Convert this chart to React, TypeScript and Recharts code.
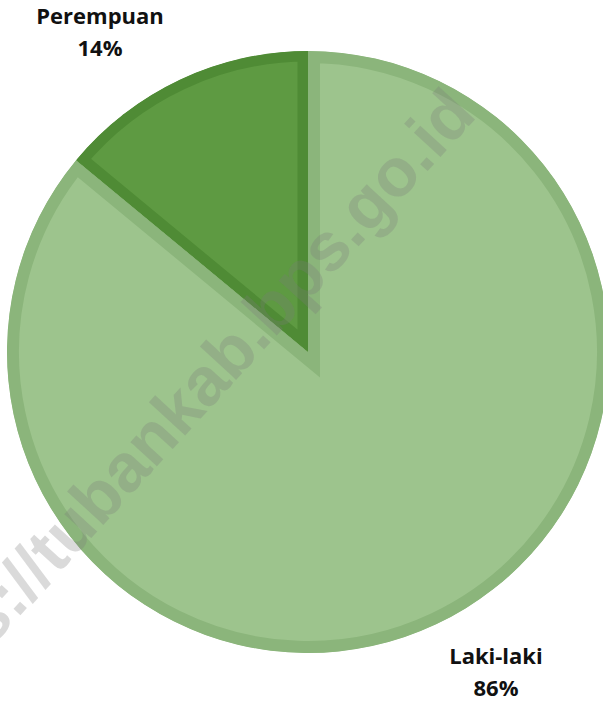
import { PieChart, Pie, Cell, Sector } from "recharts";

const categories = ["Laki-laki", "Perempuan"];
const shares = [86, 14];

const fills = ["#9DC48D", "#5E9A42"];
const borders = ["#8BB57B", "#4F8B35"];

const watermark = "https://tubankab.bps.go.id";

const data = categories.map((name, i) => ({ name, value: shares[i] }));

// sector with the border drawn inside the slice only (clipped to its own path)
const renderSector = (props: any) => {
  const { cx, cy, innerRadius, outerRadius, startAngle, endAngle, fill, index } = props;
  const i = typeof index === "number" ? index : Math.round(startAngle);
  const id = `slice-clip-${i}`;
  const k = categories.indexOf(props.payload?.name ?? props.name);
  const border = borders[k] ?? "#888";
  const geo = { cx, cy, innerRadius, outerRadius, startAngle, endAngle };
  return (
    <g>
      <defs>
        <clipPath id={id}>
          <Sector {...geo} />
        </clipPath>
      </defs>
      <Sector
        {...geo}
        fill={fill}
        stroke={border}
        strokeWidth={k === 1 ? 21 : 24}
        strokeLinejoin="miter"
        clipPath={`url(#${id})`}
      />
    </g>
  );
};

const RAD = Math.PI / 180;

const renderLabel = (props: any) => {
  const { cx, cy, midAngle, name, value } = props;
  const x = cx - 10 + 465 * Math.cos(-midAngle * RAD);
  const y = cy + 8 + 354 * Math.sin(-midAngle * RAD);
  return (
    <text
      x={x}
      y={y}
      textAnchor="middle"
      fill="#111"
      fontFamily="'Open Sans', sans-serif"
      fontWeight={700}
      fontSize={22}
    >
      <tspan x={x} y={y - 16}>{name}</tspan>
      <tspan x={x} y={y + 16}>{`${value}%`}</tspan>
    </text>
  );
};

export default function App() {
  return (
    <div style={{ position: "absolute", left: 0, top: 0, width: 603, height: 702, background: "#fff", overflow: "hidden" }}>
      <PieChart width={603} height={702} margin={{ top: 0, right: 0, bottom: 0, left: 0 }}>
        <Pie
          data={data}
          dataKey="value"
          nameKey="name"
          cx={308}
          cy={352}
          outerRadius={301}
          startAngle={90}
          endAngle={-270}
          stroke="none"
          shape={renderSector}
          inactiveShape={renderSector}
          activeShape={renderSector}
          label={renderLabel}
          labelLine={false}
          isAnimationActive={false}
        >
          {data.map((d, i) => (
            <Cell key={d.name} fill={fills[i]} />
          ))}
        </Pie>
      </PieChart>
      <svg width={603} height={702} style={{ position: "absolute", left: 0, top: 0, pointerEvents: "none" }}>
        <text
          x={478}
          y={116}
          textAnchor="end"
          transform="rotate(-47.5 478 116)"
          fontFamily="'Liberation Sans', Arial, sans-serif"
          fontWeight={700}
          fontSize={68}
          fill="#7a7a7a"
          fillOpacity={0.28}
        >
          {watermark}
        </text>
      </svg>
    </div>
  );
}
